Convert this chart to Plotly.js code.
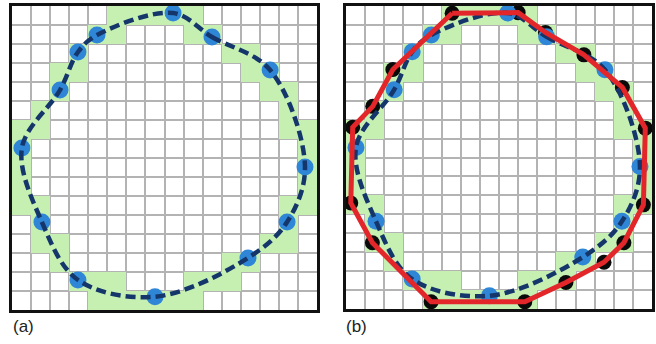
<!DOCTYPE html>
<html>
<head>
<meta charset="utf-8">
<script src="https://cdn.plot.ly/plotly-3.0.1.min.js"></script>
<style>html,body{margin:0;padding:0;background:#fff;}#chart{width:656px;height:344px;}</style>
</head>
<body>
<div id="chart"></div>
<script>
// Grid size (cells per side)
const gridCells = 16;

// Green (boundary) cells: column index and row index (row 0 = top)
const greenCol = [5,6,7,8,9, 4,5,9,10, 3,11,12, 2,3,12,13, 2,13,14, 1,14, 0,1,14,15, 0,15, 0,15, 0,15, 0,1,14,15, 1,14, 1,2,13,14, 2,11,12, 3,4,5,9,10,11, 4,5,6,7,8,9];
const greenRow = [0,0,0,0,0, 1,1,1,1, 2,2,2, 3,3,3,3, 4,4,4, 5,5, 6,6,6,6, 7,7, 8,8, 9,9, 10,10,10,10, 11,11, 12,12,12,12, 13,13,13, 14,14,14,14,14,14, 15,15,15,15,15,15];

// Blue sample points (cell units, y from top), clockwise from top
const blueX = [8.45, 10.49, 13.54, 15.37, 14.43, 12.38, 7.50, 3.46, 1.57, 0.52, 2.52, 3.46, 4.46];
const blueY = [0.37, 1.63, 3.37, 8.47, 11.37, 13.26, 15.30, 14.42, 11.37, 7.47, 4.42, 2.42, 1.53];

// Black points / red polygon vertices of panel (b)
const blackX = [5.55, 9.00, 10.43, 12.44, 14.45, 15.65, 15.55, 14.53, 13.49, 11.50, 9.35, 4.45, 1.38, 0.25, 0.35, 1.40, 2.45];
const blackY = [0.38, 0.35, 1.40, 2.58, 4.30, 6.45, 10.50, 12.50, 13.53, 14.60, 15.62, 15.62, 12.50, 10.40, 6.40, 5.30, 3.35];

const panelLabels = ['(a)', '(b)'];

// Build heatmap matrix from green cells
const centers = [];
for (let i = 0; i < gridCells; i++) centers.push(i + 0.5);
const z = [];
for (let r = 0; r < gridCells; r++) { const row = []; for (let c = 0; c < gridCells; c++) row.push(null); z.push(row); }
for (let k = 0; k < greenCol.length; k++) z[greenRow[k]][greenCol[k]] = 1;

const closedX = blueX.concat([blueX[0]]);
const closedY = blueY.concat([blueY[0]]);
const polyX = blackX.concat([blackX[0]]);
const polyY = blackY.concat([blackY[0]]);

const GREEN = '#c6f0b2', BLUE = '#2f86d6', NAVY = '#15366a', RED = '#e3262a';

function panel(xa, ya, withB) {
  const t = [];
  t.push({type:'heatmap', x:centers, y:centers, z:z, xaxis:xa, yaxis:ya,
    colorscale:[[0,GREEN],[1,GREEN]], showscale:false, zsmooth:false, hoverinfo:'skip'});
  if (withB) {
    t.push({type:'scatter', mode:'markers', x:blackX, y:blackY, xaxis:xa, yaxis:ya,
      marker:{size:15, color:'#0a0a0a'}, hoverinfo:'skip'});
  }
  t.push({type:'scatter', mode:'markers', x:blueX, y:blueY, xaxis:xa, yaxis:ya,
    marker:{size:17, color:BLUE}, hoverinfo:'skip'});
  t.push({type:'scatter', mode:'lines', x:closedX, y:closedY, xaxis:xa, yaxis:ya,
    line:{shape:'spline', smoothing:1, color:NAVY, width:4.5, dash:'10px,5px'}, hoverinfo:'skip'});
  if (withB) {
    t.push({type:'scatter', mode:'lines', x:polyX, y:polyY, xaxis:xa, yaxis:ya,
      line:{color:RED, width:5}, hoverinfo:'skip'});
  }
  return t;
}

const data = panel('x','y',false).concat(panel('x2','y2',true));

function ax(domain, rev) {
  return {domain:domain, range: rev ? [gridCells,0] : [0,gridCells], dtick:1, tick0:0,
    showgrid:true, gridcolor:'#b3b3b3', gridwidth:2, zeroline:false,
    showticklabels:false, ticks:'', showline:true, mirror:true, linecolor:'#111', linewidth:3,
    fixedrange:true};
}

const layout = {
  width:656, height:344, autosize:false,
  margin:{l:0, r:0, t:0, b:0},
  paper_bgcolor:'#fff', plot_bgcolor:'#fff', showlegend:false,
  xaxis: Object.assign(ax([12/656, 317/656], false), {anchor:'y'}),
  yaxis: Object.assign(ax([1-310/344, 1-6/344], true), {anchor:'x'}),
  xaxis2: Object.assign(ax([346/656, 652/656], false), {anchor:'y2'}),
  yaxis2: Object.assign(ax([1-309/344, 1-6/344], true), {anchor:'x2'}),
  annotations: [
    {text:panelLabels[0], xref:'paper', yref:'paper', x:11/656, y:1-326/344, xanchor:'left', yanchor:'middle', showarrow:false,
     font:{family:'Liberation Sans, Arial, sans-serif', size:17, color:'#222'}},
    {text:panelLabels[1], xref:'paper', yref:'paper', x:344/656, y:1-326/344, xanchor:'left', yanchor:'middle', showarrow:false,
     font:{family:'Liberation Sans, Arial, sans-serif', size:17, color:'#222'}}
  ]
};

Plotly.newPlot('chart', data, layout, {displayModeBar:false, staticPlot:true});
</script>
</body>
</html>
